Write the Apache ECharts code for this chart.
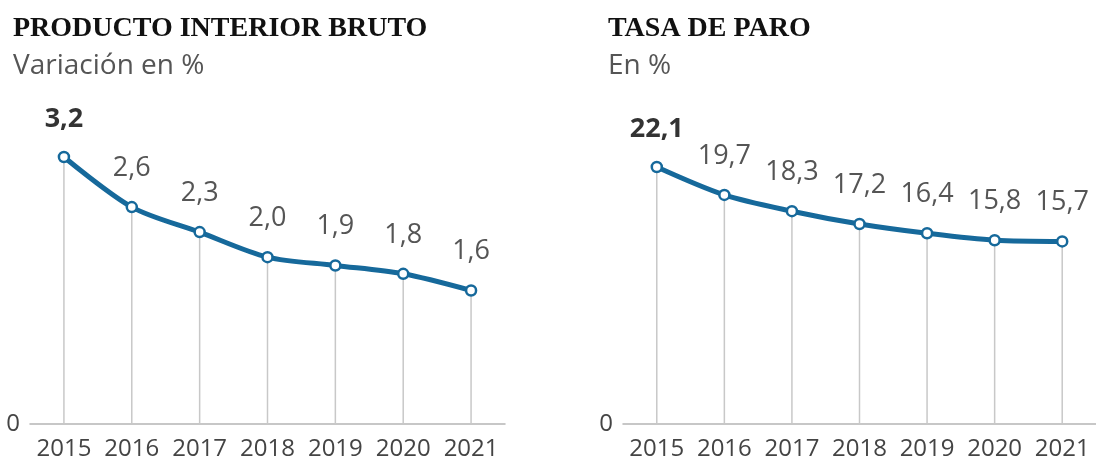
<!DOCTYPE html>
<html>
<head>
<meta charset="utf-8">
<style>
  html, body { margin: 0; padding: 0; background: #fff; }
  #chart { width: 1096px; height: 464px; }
</style>
<script src="https://cdn.jsdelivr.net/npm/echarts@6/dist/echarts.min.js"></script>
</head>
<body>
<div id="chart"></div>
<script>
// datos
const years = ['2015', '2016', '2017', '2018', '2019', '2020', '2021'];
const pib = [3.2, 2.6, 2.3, 2.0, 1.9, 1.8, 1.6];
const paro = [22.1, 19.7, 18.3, 17.2, 16.4, 15.8, 15.7];
const yTicks = [0];

const BLUE = '#16699b';
const numFont = '"Open Sans", Lato, sans-serif';

function fmt(v) {
    return String(v.toFixed(1)).replace('.', ',');
}

function dataLabel(idx) {
    return {
        show: true,
        position: 'top',
        distance: idx === 0 ? 18 : 19,
        fontFamily: numFont,
        fontSize: idx === 0 ? 27 : 27,
        color: idx === 0 ? '#333' : '#555',
        fontWeight: idx === 0 ? 'bold' : 'normal',
        formatter: p => fmt(p.value)
    };
}

function lineData(arr) {
    return arr.map((v, i) => ({ value: v, label: dataLabel(i) }));
}

function xAxisOf(grid) {
    return {
        type: 'category',
        gridIndex: grid,
        data: years,
        boundaryGap: true,
        axisLine: { show: true, lineStyle: { color: '#b5b5b5', width: 1.5 } },
        axisTick: { show: false },
        axisLabel: { interval: 0, fontFamily: numFont, fontSize: 24, color: '#444', margin: 13 }
    };
}

function yAxisOf(grid, max) {
    return {
        type: 'value',
        gridIndex: grid,
        min: 0,
        max: max,
        interval: max,
        axisLine: { show: false },
        axisTick: { show: false },
        splitLine: { show: false },
        axisLabel: {
            fontFamily: numFont, fontSize: 24, color: '#444', margin: 10,
            formatter: v => yTicks.includes(v) ? String(v) : ''
        }
    };
}

const chart = echarts.init(document.getElementById('chart'));

const titleStyle = { fontFamily: '"Liberation Serif", serif', fontWeight: 'bold', fontSize: 28, color: '#111' };
const subStyle = { fontFamily: numFont, fontSize: 28, color: '#555' };

const option = {
    backgroundColor: '#fff',
    animation: false,
    title: [
        {
            text: 'PRODUCTO INTERIOR BRUTO',
            subtext: 'Variación en %',
            left: 8, top: 10, itemGap: 9,
            textStyle: titleStyle,
            subtextStyle: subStyle
        },
        {
            text: 'TASA DE PARO',
            subtext: 'En %',
            left: 603, top: 10, itemGap: 9,
            textStyle: titleStyle,
            subtextStyle: subStyle
        }
    ],
    grid: [
        { left: 30, width: 475, top: 157, height: 267 },
        { left: 623, width: 477, top: 167, height: 257 }
    ],
    xAxis: [xAxisOf(0), xAxisOf(1)],
    yAxis: [yAxisOf(0, 3.2), yAxisOf(1, 22.1)],
    series: [
        {
            type: 'bar', xAxisIndex: 0, yAxisIndex: 0,
            data: pib, barWidth: 1.5, silent: true,
            itemStyle: { color: '#c8c8c8' }
        },
        {
            type: 'bar', xAxisIndex: 1, yAxisIndex: 1,
            data: paro, barWidth: 1.5, silent: true,
            itemStyle: { color: '#c8c8c8' }
        },
        {
            type: 'line', xAxisIndex: 0, yAxisIndex: 0,
            data: lineData(pib), smooth: 0.3,
            symbol: 'circle', symbolSize: 10,
            lineStyle: { color: BLUE, width: 5 },
            itemStyle: { color: '#fff', borderColor: BLUE, borderWidth: 2.5 },
            z: 5
        },
        {
            type: 'line', xAxisIndex: 1, yAxisIndex: 1,
            data: lineData(paro), smooth: 0.3,
            symbol: 'circle', symbolSize: 10,
            lineStyle: { color: BLUE, width: 5 },
            itemStyle: { color: '#fff', borderColor: BLUE, borderWidth: 2.5 },
            z: 5
        }
    ]
};

chart.setOption(option);

window.addEventListener('resize', () => {
    chart.resize();
});
</script>
</body>
</html>
